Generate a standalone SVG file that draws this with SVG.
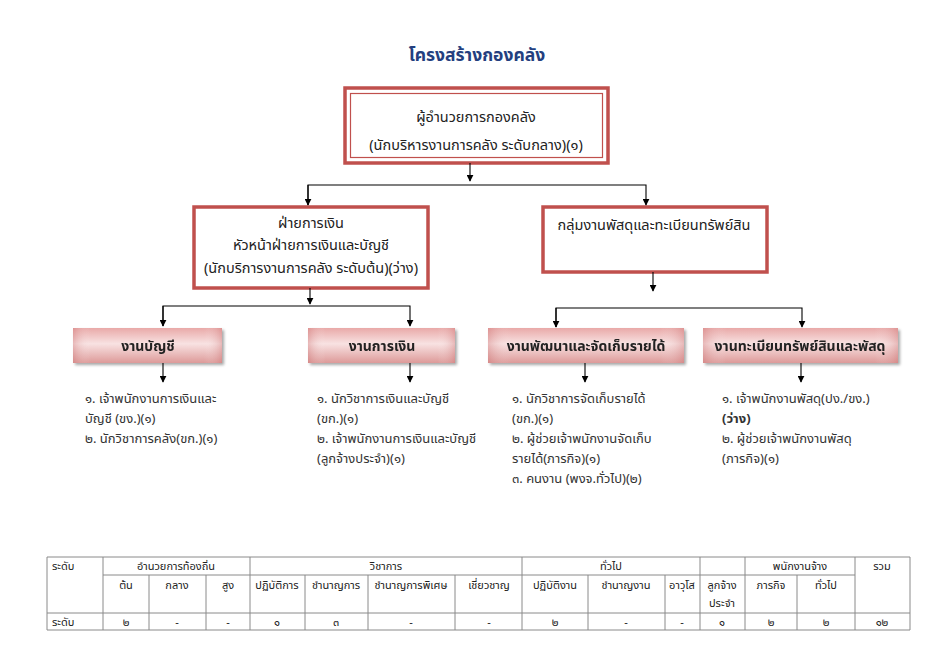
<svg xmlns="http://www.w3.org/2000/svg" width="950" height="672" viewBox="0 0 950 672">
<defs>
<style>
text{font-family:Tahoma,"Noto Sans Thai","Noto Sans","DejaVu Sans",sans-serif;fill:#222}
.title{font-size:17.5px;font-weight:bold;fill:#243F7F}
.bx{font-size:14.5px}
.hd{font-size:14px;font-weight:bold}
.ls{font-size:13px;fill:#333}
.tb{font-size:11px;fill:#222}
.c{text-anchor:middle}
.red{fill:#fff;stroke:#C0504D;stroke-width:3.5}
.conn line,.conn polyline{stroke:#000;stroke-width:1.1;fill:none}
.grid line{stroke:#8a8a8a;stroke-width:1}
</style>
<marker id="ah" viewBox="0 0 10 10" refX="9" refY="5" markerWidth="7" markerHeight="7" markerUnits="userSpaceOnUse" orient="auto">
<path d="M0,0 L10,5 L0,10 z" fill="#000"/>
</marker>
<linearGradient id="pink" x1="0" y1="0" x2="0" y2="1">
<stop offset="0" stop-color="#E9A9A8"/>
<stop offset="0.45" stop-color="#F8E2E2"/>
<stop offset="1" stop-color="#DD9A99"/>
</linearGradient>
<linearGradient id="pinkh" x1="0" y1="0" x2="1" y2="0">
<stop offset="0" stop-color="#C96A6A" stop-opacity="0.35"/>
<stop offset="0.12" stop-color="#fff" stop-opacity="0"/>
<stop offset="0.88" stop-color="#fff" stop-opacity="0"/>
<stop offset="1" stop-color="#C96A6A" stop-opacity="0.35"/>
</linearGradient>
<filter id="sh" x="-10%" y="-20%" width="130%" height="160%">
<feGaussianBlur in="SourceAlpha" stdDeviation="1.5"/>
<feOffset dx="2" dy="2" result="b"/>
<feComponentTransfer><feFuncA type="linear" slope="0.35"/></feComponentTransfer>
<feMerge><feMergeNode/><feMergeNode in="SourceGraphic"/></feMerge>
</filter>
</defs>
<rect width="950" height="672" fill="#fff"/>
<text class="title c" x="477" y="61">โครงสร้างกองคลัง</text>

<g id="director">
<rect x="345" y="88" width="263" height="75" fill="#fff" stroke="#C0504D" stroke-width="3.5"/>
<rect x="350.5" y="93.5" width="252" height="64" fill="none" stroke="#C0504D" stroke-width="1.2"/>
<text class="bx c" x="476" y="122">ผู้อำนวยการกองคลัง</text>
<text class="bx c" x="476" y="150">(นักบริหารงานการคลัง ระดับกลาง)(๑)</text>
</g>

<g id="finance">
<rect class="red" x="194" y="207" width="234" height="81"/>
<text class="bx c" x="311" y="228">ฝ่ายการเงิน</text>
<text class="bx c" x="311" y="250">หัวหน้าฝ่ายการเงินและบัญชี</text>
<text class="bx c" x="311" y="273">(นักบริการงานการคลัง ระดับต้น)(ว่าง)</text>
</g>

<g id="supply">
<rect class="red" x="543" y="207" width="224" height="65"/>
<text class="bx c" x="654" y="230">กลุ่มงานพัสดุและทะเบียนทรัพย์สิน</text>
</g>

<g id="accounting" filter="url(#sh)">
<rect x="73" y="328" width="149" height="35" fill="url(#pink)"/>
<rect x="73" y="328" width="149" height="35" fill="url(#pinkh)"/>
<text class="hd c" x="148" y="351">งานบัญชี</text>
</g>
<g id="money" filter="url(#sh)">
<rect x="308" y="328" width="147" height="35" fill="url(#pink)"/>
<rect x="308" y="328" width="147" height="35" fill="url(#pinkh)"/>
<text class="hd c" x="382" y="351">งานการเงิน</text>
</g>
<g id="revenue" filter="url(#sh)">
<rect x="488" y="328" width="196" height="35" fill="url(#pink)"/>
<rect x="488" y="328" width="196" height="35" fill="url(#pinkh)"/>
<text class="hd c" x="586" y="351">งานพัฒนาและจัดเก็บรายได้</text>
</g>
<g id="assets" filter="url(#sh)">
<rect x="703" y="328" width="195" height="35" fill="url(#pink)"/>
<rect x="703" y="328" width="195" height="35" fill="url(#pinkh)"/>
<text class="hd c" x="800" y="351">งานทะเบียนทรัพย์สินและพัสดุ</text>
</g>

<g id="list-accounting">
<text class="ls" x="85" y="403">๑. เจ้าพนักงานการเงินและ</text>
<text class="ls" x="85" y="423">บัญชี (ขง.)(๑)</text>
<text class="ls" x="85" y="443">๒. นักวิชาการคลัง(ขก.)(๑)</text>
</g>
<g id="list-money">
<text class="ls" x="317" y="403">๑. นักวิชาการเงินและบัญชี</text>
<text class="ls" x="317" y="423">(ขก.)(๑)</text>
<text class="ls" x="317" y="443">๒. เจ้าพนักงานการเงินและบัญชี</text>
<text class="ls" x="317" y="463">(ลูกจ้างประจำ)(๑)</text>
</g>
<g id="list-revenue">
<text class="ls" x="512" y="403">๑. นักวิชาการจัดเก็บรายได้</text>
<text class="ls" x="512" y="423">(ขก.)(๑)</text>
<text class="ls" x="512" y="443">๒. ผู้ช่วยเจ้าพนักงานจัดเก็บ</text>
<text class="ls" x="512" y="463">รายได้(ภารกิจ)(๑)</text>
<text class="ls" x="512" y="483">๓. คนงาน (พงจ.ทั่วไป)(๒)</text>
</g>
<g id="list-assets">
<text class="ls" x="722" y="403">๑. เจ้าพนักงานพัสดุ(ปง./ขง.)</text>
<text class="ls" x="722" y="423" font-weight="bold">(ว่าง)</text>
<text class="ls" x="722" y="443">๒. ผู้ช่วยเจ้าพนักงานพัสดุ</text>
<text class="ls" x="722" y="463">(ภารกิจ)(๑)</text>
</g>

<g id="connectors" class="conn">
<line x1="470" y1="163" x2="470" y2="181" marker-end="url(#ah)"/>
<polyline points="308,205 308,185 646,185 646,205" marker-end="url(#ah)"/>
<line x1="308" y1="185" x2="308" y2="205" marker-end="url(#ah)"/>
<line x1="310" y1="288" x2="310" y2="304" marker-end="url(#ah)"/>
<polyline points="163,326 163,306 410,306 410,326" marker-end="url(#ah)"/>
<line x1="163" y1="306" x2="163" y2="326" marker-end="url(#ah)"/>
<line x1="653" y1="272" x2="653" y2="291" marker-end="url(#ah)"/>
<polyline points="556,327 556,308 802,308 802,327" marker-end="url(#ah)"/>
<line x1="556" y1="308" x2="556" y2="327" marker-end="url(#ah)"/>
<line x1="163" y1="363" x2="163" y2="382" marker-end="url(#ah)"/>
<line x1="410" y1="363" x2="410" y2="382" marker-end="url(#ah)"/>
<line x1="585" y1="363" x2="585" y2="382" marker-end="url(#ah)"/>
<line x1="801" y1="363" x2="801" y2="382" marker-end="url(#ah)"/>
</g>

<g id="table">
<g class="grid">
<line x1="47" y1="557" x2="910" y2="557"/>
<line x1="103" y1="575" x2="855" y2="575"/>
<line x1="47" y1="613" x2="910" y2="613"/>
<line x1="47" y1="630" x2="910" y2="630"/>
<line x1="47" y1="557" x2="47" y2="630"/>
<line x1="910" y1="557" x2="910" y2="630"/>
<line x1="103" y1="557" x2="103" y2="630"/>
<line x1="250" y1="557" x2="250" y2="630"/>
<line x1="522" y1="557" x2="522" y2="630"/>
<line x1="700" y1="557" x2="700" y2="630"/>
<line x1="745" y1="557" x2="745" y2="630"/>
<line x1="855" y1="557" x2="855" y2="630"/>
<line x1="149" y1="575" x2="149" y2="630"/>
<line x1="206" y1="575" x2="206" y2="630"/>
<line x1="305" y1="575" x2="305" y2="630"/>
<line x1="368" y1="575" x2="368" y2="630"/>
<line x1="455" y1="575" x2="455" y2="630"/>
<line x1="588" y1="575" x2="588" y2="630"/>
<line x1="665" y1="575" x2="665" y2="630"/>
<line x1="797" y1="575" x2="797" y2="630"/>
</g>
<text class="tb" x="52" y="570">ระดับ</text>
<text class="tb c" x="176" y="570">อำนวยการท้องถิ่น</text>
<text class="tb c" x="386" y="570">วิชาการ</text>
<text class="tb c" x="611" y="570">ทั่วไป</text>
<text class="tb c" x="800" y="570">พนักงานจ้าง</text>
<text class="tb c" x="882" y="570">รวม</text>
<text class="tb c" x="126" y="589">ต้น</text>
<text class="tb c" x="177" y="589">กลาง</text>
<text class="tb c" x="228" y="589">สูง</text>
<text class="tb c" x="277" y="589">ปฏิบัติการ</text>
<text class="tb c" x="336" y="589">ชำนาญการ</text>
<text class="tb c" x="411" y="589">ชำนาญการพิเศษ</text>
<text class="tb c" x="489" y="589">เชี่ยวชาญ</text>
<text class="tb c" x="555" y="589">ปฏิบัติงาน</text>
<text class="tb c" x="626" y="589">ชำนาญงาน</text>
<text class="tb c" x="682" y="589">อาวุโส</text>
<text class="tb c" x="722" y="589">ลูกจ้าง</text>
<text class="tb c" x="722" y="607">ประจำ</text>
<text class="tb c" x="771" y="589">ภารกิจ</text>
<text class="tb c" x="826" y="589">ทั่วไป</text>
<text class="tb" x="52" y="626">ระดับ</text>
<text class="tb c" x="126" y="626">๒</text>
<text class="tb c" x="177" y="626">-</text>
<text class="tb c" x="228" y="626">-</text>
<text class="tb c" x="277" y="626">๑</text>
<text class="tb c" x="336" y="626">๓</text>
<text class="tb c" x="411" y="626">-</text>
<text class="tb c" x="489" y="626">-</text>
<text class="tb c" x="555" y="626">๒</text>
<text class="tb c" x="626" y="626">-</text>
<text class="tb c" x="682" y="626">-</text>
<text class="tb c" x="722" y="626">๑</text>
<text class="tb c" x="771" y="626">๒</text>
<text class="tb c" x="826" y="626">๒</text>
<text class="tb c" x="882" y="626">๑๒</text>
</g>
</svg>
